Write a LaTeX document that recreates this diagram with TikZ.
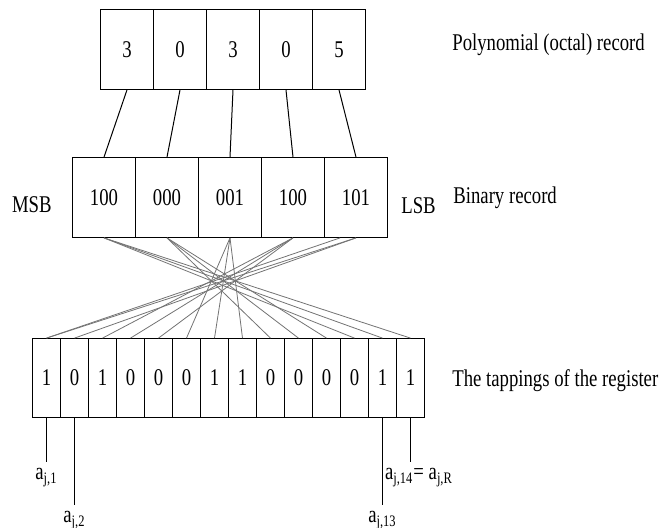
\documentclass[tikz,border=0pt]{standalone}
\usepackage{fontspec}
\setmainfont[FakeStretch=0.78]{Liberation Serif}
\usetikzlibrary{positioning}
\tikzset{
  octcell/.style={minimum width=26.5pt, minimum height=40pt, inner sep=0pt},
  bincell/.style={minimum width=31.5pt, minimum height=40pt, inner sep=0pt},
  regcell/.style={minimum width=14pt, minimum height=39.5pt, inner sep=0pt},
  boxline/.style={line width=0.5pt},
  linkline/.style={line width=0.5pt},
  fanline/.style={black!55, line width=0.4pt},
  caption/.style={anchor=base west, inner sep=0pt},
  tap/.style={anchor=north, inner xsep=0pt, inner ysep=3pt}
}

\begin{document}
\begin{tikzpicture}[x=0.5pt, y=-0.5pt, font=\fontsize{12}{14}\selectfont]
  \useasboundingbox (0,0) rectangle (671,527);

  % Octal record
  \foreach \v [count=\i] in {3,0,3,0,5}
    \node[octcell] (oct\i) at ({100.5+53*(\i-0.5)},49.5) {\v};
  \draw[boxline] (oct1.north west) rectangle (oct5.south east);
  \foreach \i in {1,...,4}
    \draw[boxline] (oct\i.north east) -- (oct\i.south east);

  % Binary record
  \foreach \v [count=\i] in {100,000,001,100,101}
    \node[bincell] (bin\i) at ({72.5+63*(\i-0.5)},197.5) {\v};
  \draw[boxline] (bin1.north west) rectangle (bin5.south east);
  \foreach \i in {1,...,4}
    \draw[boxline] (bin\i.north east) -- (bin\i.south east);

  % Register
  \foreach \v [count=\i] in {1,0,1,0,0,0,1,1,0,0,0,0,1,1}
    \node[regcell] (reg\i) at ({32.5+28*(\i-0.5)},378) {\v};
  \draw[boxline] (reg1.north west) rectangle (reg14.south east);
  \foreach \i in {1,...,13}
    \draw[boxline] (reg\i.north east) -- (reg\i.south east);

  % Octal digit -> binary triple
  \foreach \i in {1,...,5}
    \draw[linkline] (oct\i.south) -- (bin\i.north);

  % Bits -> register tappings (reversed order)
  \foreach \b/\r in {1/12,1/13,1/14,2/9,2/10,2/11,3/6,3/7,3/8,4/3,4/4,4/5,5/1,5/2}
    \draw[fanline] (bin\b.south) -- (reg\r.north);
  \coordinate (bin5s) at ([xshift=-8pt]bin5.south);
  \draw[fanline] (bin5s) -- (reg1.north);

  % Captions
  \node[caption] (polytxt) at (452,50) {Polynomial (octal) record};
  \node[caption] (bintxt) at (453,203) {Binary record};
  \node[caption] (regtxt) at (452,386) {The tappings of the register};
  \node[caption] (lsb) at (401,213) {LSB};
  \node[caption, anchor=base east] (msb) at (52,212) {MSB};

  % Tap outputs
  \node[tap] (a1) at (46.5,462) {a\textsubscript{j,1}};
  \node[tap] (a2) at (74.5,505) {a\textsubscript{j,2}};
  \node[tap] (a13) at (382.5,505) {a\textsubscript{j,13}};
  \node[tap] (a14) at (419,462) {a\textsubscript{j,14}= a\textsubscript{j,R}};
  \draw[linkline] (reg1.south) -- (a1.north);
  \draw[linkline] (reg2.south) -- (a2.north);
  \draw[linkline] (reg13.south) -- (a13.north);
  \draw[linkline] (reg14.south) -- (reg14.south |- a14.north);
\end{tikzpicture}
\end{document}
